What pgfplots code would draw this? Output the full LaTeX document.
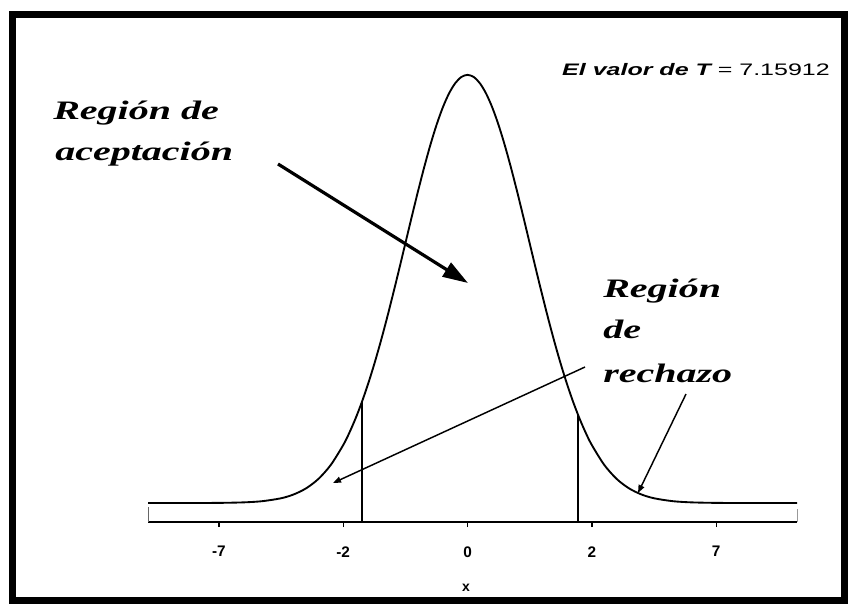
\documentclass[border=0pt]{standalone}
\usepackage{pgfplots}
\pgfplotsset{compat=1.18}
\usepackage{fontspec}
\setmainfont{Liberation Sans}
\newfontfamily\wideserif[FakeStretch=1.5]{Liberation Serif}
\newfontfamily\widesans[FakeStretch=1.5]{Liberation Sans}
\usetikzlibrary{arrows.meta}

\begin{document}
\begin{tikzpicture}
% pixel grid of the reference: x to the right, y downwards
\begin{scope}[x=0.75pt,y=-0.75pt]
\fill[white] (0,0) rectangle (848,604);
\draw[line width=5.25pt] (12.5,14) rectangle (844.5,600.5);
\end{scope}

\begin{axis}[
  at={(111pt,-391.5pt)}, anchor=south west,
  scale only axis,
  width=486.75pt, height=344.25pt,
  xmin=-5.14, xmax=5.3,
  ymin=-0.0177, ymax=0.41,
  axis x line=bottom, axis y line=none,
  axis line style={-, line width=1.3pt},
  xtick={-4,-2,0,2,4},
  xticklabels={-7,-2,0,2,7},
  tick align=outside,
  major tick length=3.75pt,
  tick style={line width=1pt, black},
  xticklabel style={font=\fontsize{11.5}{13}\selectfont\bfseries, yshift=-11pt},
  xlabel={x},
  xlabel style={at={(axis description cs:0.49,0)}, anchor=center,
    yshift=-49.5pt, font=\fontsize{10.5}{12}\selectfont\bfseries},
  clip=false,
]
% densidad de la curva
\addplot[black, line width=1.4pt, smooth] coordinates {
(-5.14,0.00000) (-4.5,0.00002) (-4.0,0.00013) (-3.6,0.00061) (-3.3,0.00172)
(-3.0,0.00443) (-2.8,0.00792) (-2.6,0.01358) (-2.4,0.02239) (-2.2,0.03547)
(-2.0,0.05399) (-1.9,0.06562) (-1.8,0.07895) (-1.7,0.09405) (-1.6,0.11092)
(-1.5,0.12952) (-1.4,0.14973) (-1.3,0.17137) (-1.2,0.19419) (-1.1,0.21785)
(-1.0,0.24197) (-0.9,0.26609) (-0.8,0.28969) (-0.7,0.31225) (-0.6,0.33322)
(-0.5,0.35207) (-0.4,0.36827) (-0.3,0.38139) (-0.2,0.39104) (-0.1,0.39695)
(0.0,0.39894)
(0.1,0.39695) (0.2,0.39104) (0.3,0.38139) (0.4,0.36827) (0.5,0.35207)
(0.6,0.33322) (0.7,0.31225) (0.8,0.28969) (0.9,0.26609) (1.0,0.24197)
(1.1,0.21785) (1.2,0.19419) (1.3,0.17137) (1.4,0.14973) (1.5,0.12952)
(1.6,0.11092) (1.7,0.09405) (1.8,0.07895) (1.9,0.06562) (2.0,0.05399)
(2.2,0.03547) (2.4,0.02239) (2.6,0.01358) (2.8,0.00792) (3.0,0.00443)
(3.3,0.00172) (3.6,0.00061) (4.0,0.00013) (4.5,0.00002) (5.3,0.00000)
};
% valores criticos
\addplot[black, line width=1.5pt] coordinates {(-1.70,-0.0177) (-1.70,0.09405)};
\addplot[black, line width=1.5pt] coordinates {(1.77,-0.0177) (1.77,0.08334)};
% marcas en los extremos
\addplot[black!60, line width=0.6pt] coordinates {(-5.14,-0.0177) (-5.14,-0.004)};
\addplot[black!40, line width=0.6pt] coordinates {(5.3,-0.0177) (5.3,-0.006)};
\end{axis}

\begin{scope}[x=0.75pt,y=-0.75pt]
\node[anchor=base west, inner sep=0pt] at (53,119)
  {\wideserif\fontsize{20}{24}\selectfont\bfseries\itshape Región de};
\node[anchor=base west, inner sep=0pt] at (55,160)
  {\wideserif\fontsize{20}{24}\selectfont\bfseries\itshape aceptación};
\node[anchor=base west, inner sep=0pt] at (603,297)
  {\wideserif\fontsize{20}{24}\selectfont\bfseries\itshape Región};
\node[anchor=base west, inner sep=0pt] at (603,338)
  {\wideserif\fontsize{20}{24}\selectfont\bfseries\itshape de};
\node[anchor=base west, inner sep=0pt] at (603,382)
  {\wideserif\fontsize{20}{24}\selectfont\bfseries\itshape rechazo};
\node[anchor=base east, inner sep=0pt] at (830,75)
  {\widesans\fontsize{12.5}{15}\selectfont{\bfseries\itshape El valor de T} = 7.15912};
\draw[line width=2.4pt, -{Triangle[length=19pt,width=12pt]}] (278,164) -- (468,283);
\draw[line width=1.1pt, -{Triangle[length=6pt,width=4.5pt]}] (585,367) -- (333,483);
\draw[line width=1.1pt, -{Triangle[length=6pt,width=4.5pt]}] (686,394) -- (638,493);
\end{scope}
\end{tikzpicture}
\end{document}
